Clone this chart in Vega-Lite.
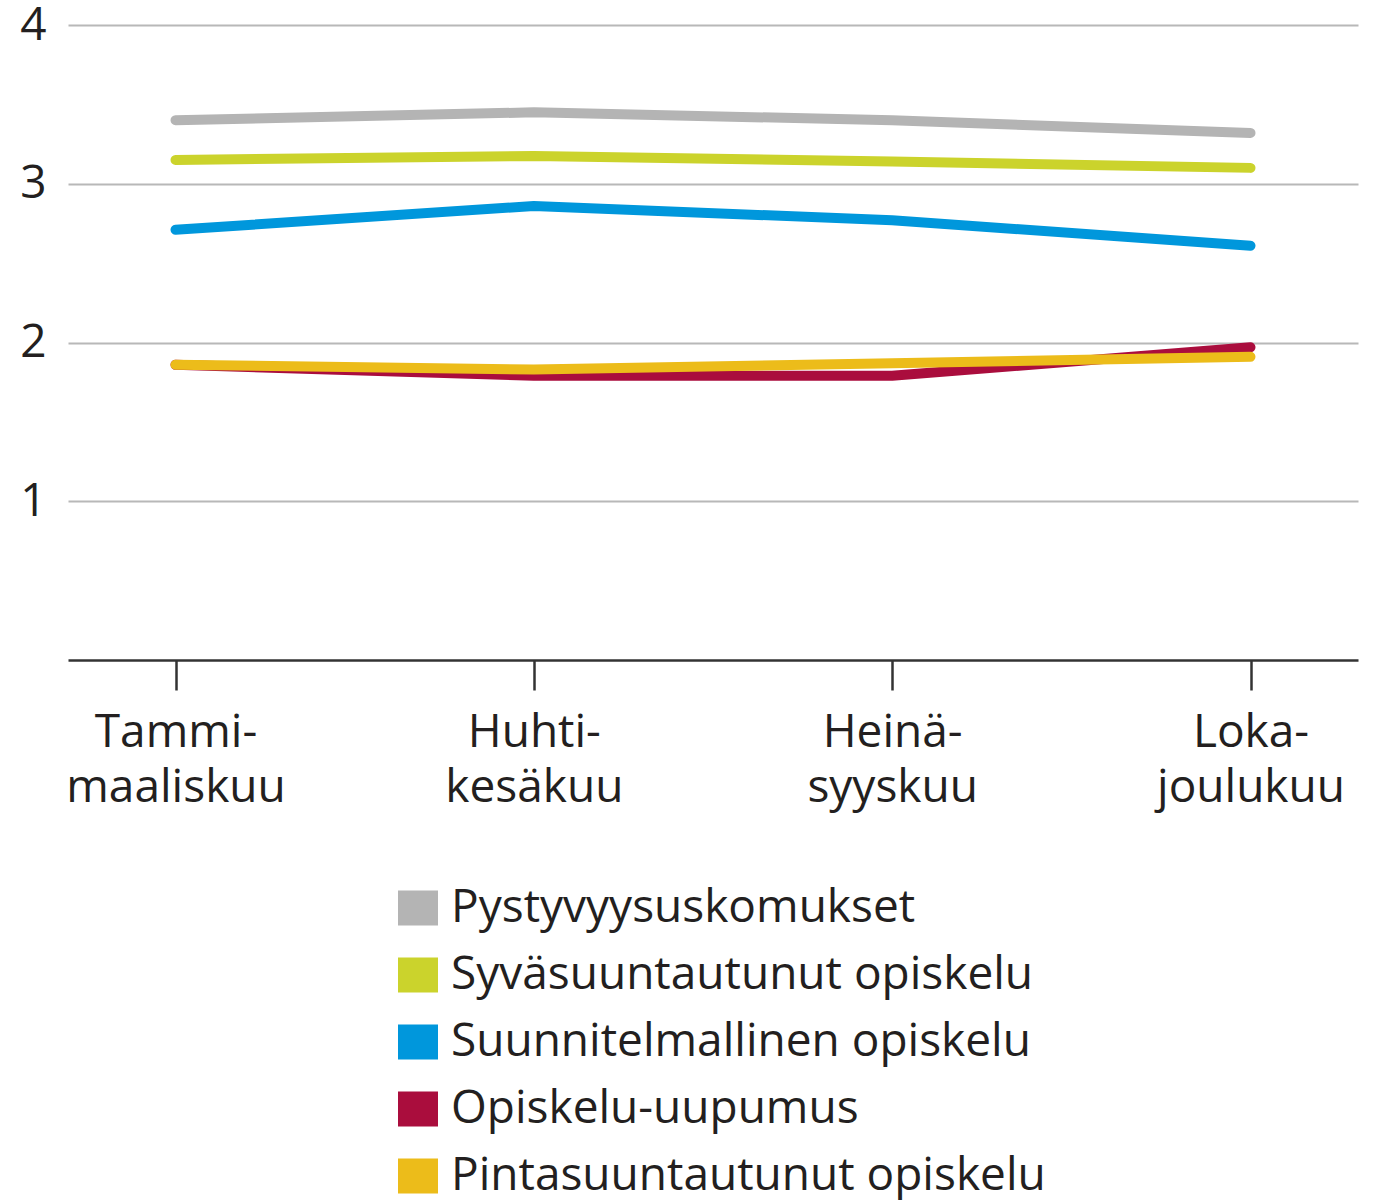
{
  "$schema": "https://vega.github.io/schema/vega-lite/v6.json",
  "width": 1290,
  "height": 635,
  "padding": {"left": 68, "top": 25, "right": 19, "bottom": 540},
  "autosize": {"type": "none"},
  "background": "white",
  "config": {
    "view": {"stroke": null},
    "font": "Open Sans",
    "text": {"font": "Open Sans"}
  },
  "data": {
    "values": [
      {"period": "Tammi- maaliskuu", "series": "Pystyvyysuskomukset", "value": 3.40},
      {"period": "Huhti- kesäkuu", "series": "Pystyvyysuskomukset", "value": 3.45},
      {"period": "Heinä- syyskuu", "series": "Pystyvyysuskomukset", "value": 3.40},
      {"period": "Loka- joulukuu", "series": "Pystyvyysuskomukset", "value": 3.32},
      {"period": "Tammi- maaliskuu", "series": "Syväsuuntautunut opiskelu", "value": 3.15},
      {"period": "Huhti- kesäkuu", "series": "Syväsuuntautunut opiskelu", "value": 3.175},
      {"period": "Heinä- syyskuu", "series": "Syväsuuntautunut opiskelu", "value": 3.14},
      {"period": "Loka- joulukuu", "series": "Syväsuuntautunut opiskelu", "value": 3.10},
      {"period": "Tammi- maaliskuu", "series": "Suunnitelmallinen opiskelu", "value": 2.71},
      {"period": "Huhti- kesäkuu", "series": "Suunnitelmallinen opiskelu", "value": 2.86},
      {"period": "Heinä- syyskuu", "series": "Suunnitelmallinen opiskelu", "value": 2.77},
      {"period": "Loka- joulukuu", "series": "Suunnitelmallinen opiskelu", "value": 2.61},
      {"period": "Tammi- maaliskuu", "series": "Opiskelu-uupumus", "value": 1.86},
      {"period": "Huhti- kesäkuu", "series": "Opiskelu-uupumus", "value": 1.79},
      {"period": "Heinä- syyskuu", "series": "Opiskelu-uupumus", "value": 1.79},
      {"period": "Loka- joulukuu", "series": "Opiskelu-uupumus", "value": 1.97},
      {"period": "Tammi- maaliskuu", "series": "Pintasuuntautunut opiskelu", "value": 1.86},
      {"period": "Huhti- kesäkuu", "series": "Pintasuuntautunut opiskelu", "value": 1.83},
      {"period": "Heinä- syyskuu", "series": "Pintasuuntautunut opiskelu", "value": 1.87},
      {"period": "Loka- joulukuu", "series": "Pintasuuntautunut opiskelu", "value": 1.91}
    ]
  },
  "mark": {"type": "line", "strokeWidth": 10, "strokeCap": "round", "strokeJoin": "round"},
  "encoding": {
    "x": {
      "field": "period",
      "type": "nominal",
      "sort": null,
      "scale": {"type": "point", "padding": 0.3},
      "axis": {
        "title": null,
        "labelAngle": 0,
        "labelExpr": "split(datum.label, ' ')",
        "labelFontSize": 46,
        "labelColor": "#231f20",
        "labelLineHeight": 55,
        "labelPadding": 20,
        "labelBaseline": "top",
        "labelLimit": 500,
        "tickSize": 30,
        "tickWidth": 2.5,
        "tickColor": "#333333",
        "domainColor": "#333333",
        "domainWidth": 2.5,
        "grid": false
      }
    },
    "y": {
      "field": "value",
      "type": "quantitative",
      "scale": {"domain": [0, 4], "nice": false, "zero": true},
      "axis": {
        "title": null,
        "values": [1, 2, 3, 4],
        "domain": false,
        "ticks": false,
        "labelFontSize": 46,
        "labelColor": "#231f20",
        "labelPadding": 22,
        "gridColor": "#b8b8b8",
        "gridWidth": 2
      }
    },
    "color": {
      "field": "series",
      "type": "nominal",
      "scale": {
        "domain": ["Pystyvyysuskomukset", "Syväsuuntautunut opiskelu", "Suunnitelmallinen opiskelu", "Opiskelu-uupumus", "Pintasuuntautunut opiskelu"],
        "range": ["#b4b4b4", "#cbd32c", "#0097dc", "#aa0d3d", "#ecbc1a"]
      },
      "legend": {
        "title": null,
        "orient": "none",
        "legendX": 327,
        "legendY": 860,
        "padding": 0,
        "symbolType": "M-1,-0.88L1,-0.88L1,0.88L-1,0.88Z",
        "symbolSize": 1600,
        "symbolStrokeWidth": 0,
        "labelFontSize": 46,
        "labelColor": "#231f20",
        "labelOffset": 10,
        "labelLimit": 1000,
        "rowPadding": 21,
        "encode": {
          "symbols": {"update": {"fill": {"scale": "color", "field": "value"}, "fillOpacity": {"value": 1}}}
        }
      }
    }
  }
}
